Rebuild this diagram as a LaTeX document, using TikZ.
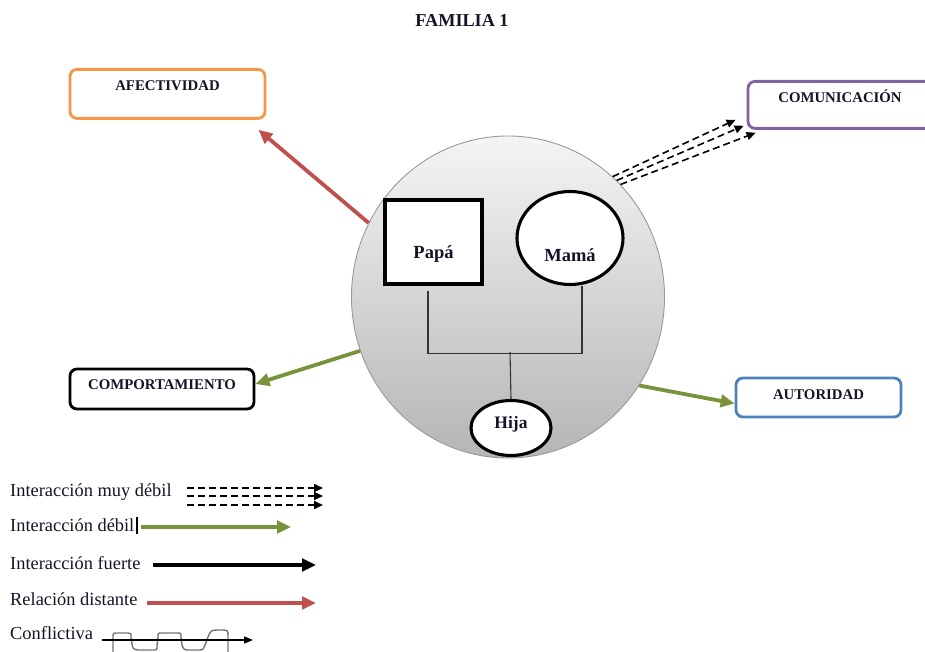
\documentclass[tikz,border=0pt]{standalone}
\usepackage{fontspec}
\setmainfont{Liberation Serif}
\usetikzlibrary{arrows.meta,shapes.geometric}
\definecolor{cOrange}{HTML}{F79646}
\definecolor{cPurple}{HTML}{8064A2}
\definecolor{cBlue}{HTML}{4F81BD}
\definecolor{cRed}{HTML}{C0504D}
\definecolor{cGreen}{HTML}{77933C}
\definecolor{cText}{HTML}{141428}
\begin{document}
\begin{tikzpicture}[x=1pt,y=-1pt,
  catbox/.style={draw, line width=2.8pt, rounded corners=7pt, fill=white, inner sep=0pt,
    font=\bfseries\fontsize{14.8}{16}\selectfont, text=cText},
  member/.style={draw, line width=3.1pt, fill=white, inner sep=0pt,
    font=\bfseries\fontsize{18.5}{20}\selectfont, text=cText},
  genline/.style={draw=black!80, line width=1.1pt},
  bigarrow/.style={line width=3.8pt, -{Triangle[length=14pt,width=12.5pt]}},
  dasharrow/.style={line width=1.6pt, dash pattern=on 7pt off 4pt, -{Triangle[length=9pt,width=8pt]}},
  legtext/.style={anchor=west, inner sep=0pt, font=\fontsize{18.4}{20}\selectfont, text=cText}
]
\useasboundingbox (0,0) rectangle (925,652);

% title
\node[font=\bfseries\fontsize{18.2}{20}\selectfont, text=cText] (title) at (462,20) {FAMILIA 1};

% family circle
\node[ellipse, draw=gray!80, line width=0.9pt, minimum width=313pt, minimum height=322pt,
  top color=gray!8, bottom color=gray!58] (fam) at (508,297) {};

% members
\node[member, rectangle, minimum width=97pt, minimum height=84pt, text height=58pt, text depth=26pt] (papa) at (433.5,242) {Papá};
\node[member, ellipse, minimum width=106pt, minimum height=93pt, text height=46pt, text depth=0pt] (mama) at (570,238) {Mamá};
\node[member, ellipse, font=\bfseries\fontsize{17.5}{19}\selectfont, minimum width=80pt, minimum height=55pt, text height=10pt, text depth=10pt] (hija) at (511,428) {Hija};

\coordinate (join) at (510,352);
\draw[genline] ([xshift=-5.5pt,yshift=-5pt]papa.south) -- ++(0,63) -| ([xshift=12pt]mama.south);
\draw[genline] (join) -- (hija.north);

% category boxes
\node[catbox, draw=cOrange, anchor=north, minimum width=195pt, text height=21pt, text depth=28pt] (afec) at (167.5,68) {AFECTIVIDAD};
\node[catbox, draw=cPurple, anchor=north, minimum width=184pt, text height=21pt, text depth=26pt] (comu) at (840,80) {COMUNICACIÓN};
\node[catbox, draw=black, minimum width=184pt, text height=20pt, text depth=20pt] (comp) at (162,389) {COMPORTAMIENTO};
\node[catbox, draw=cBlue, minimum width=165pt, text height=21pt, text depth=18pt] (auto) at (818.5,397.5) {AUTORIDAD};

% connectors
\draw[bigarrow, cRed] (fam.152) -- ([xshift=-8pt,yshift=-10pt]afec.south east);
\draw[bigarrow, cGreen] (fam.200) -- ([yshift=5pt]comp.east);
\draw[bigarrow, cGreen] (fam.-34) -- ([yshift=-6pt]auto.west);
\draw[dasharrow] (fam.49) -- ([xshift=-11pt,yshift=10pt]comu.south west);
\draw[dasharrow] (fam.47) -- ([xshift=-3pt,yshift=4pt]comu.south west);
\draw[dasharrow] (fam.45) -- ([xshift=9pt,yshift=-3pt]comu.south west);

% legend
\node[legtext] (l1) at (10,492) {Interacción muy débil};
\node[legtext] (l2) at (10,525) {Interacción débil};
\node[legtext] (l3) at (10,563) {Interacción fuerte};
\node[legtext] (l4) at (10,599) {Relación distante};
\node[legtext] (l5) at (10,633) {Conflictiva};

\coordinate (d1a) at (187,488); \coordinate (d1b) at (323,488);
\coordinate (d2a) at (187,496); \coordinate (d2b) at (323,496);
\coordinate (d3a) at (187,505); \coordinate (d3b) at (323,505);
\draw[dasharrow] (d1a) -- (d1b);
\draw[dasharrow] (d2a) -- (d2b);
\draw[dasharrow] (d3a) -- (d3b);

\coordinate (cur1) at (137,517); \coordinate (cur2) at (137,534);
\draw[line width=1.8pt] (cur1) -- (cur2);
\coordinate (g1a) at (141,527); \coordinate (g1b) at (291,527);
\draw[bigarrow, cGreen] (g1a) -- (g1b);
\coordinate (k1a) at (153,565); \coordinate (k1b) at (316,565);
\draw[bigarrow, black] (k1a) -- (k1b);
\coordinate (r1a) at (147,603); \coordinate (r1b) at (316,603);
\draw[bigarrow, cRed] (r1a) -- (r1b);

\draw[gray!90!black, line width=1.4pt] (113,653) -- (113,638) .. controls (113,633) .. (117,633) -- (128,633)
  .. controls (131,633) .. (131,638) -- (132,644) .. controls (133,649) .. (138,650) -- (153,650)
  .. controls (157,650) .. (157,646) -- (158,637) .. controls (158,633) .. (162,633) -- (177,633)
  .. controls (181,633) .. (181,637) -- (182,645) .. controls (184,650) .. (190,650) -- (198,650)
  .. controls (203,650) .. (205,645) -- (208,637) .. controls (211,630) .. (220,630)
  .. controls (228,630) .. (228,636) -- (228,653);
\coordinate (c1a) at (102,640); \coordinate (c1b) at (253,640);
\draw[line width=1.2pt, -{Triangle[length=9pt,width=7pt]}] (c1a) -- (c1b);
\end{tikzpicture}
\end{document}
